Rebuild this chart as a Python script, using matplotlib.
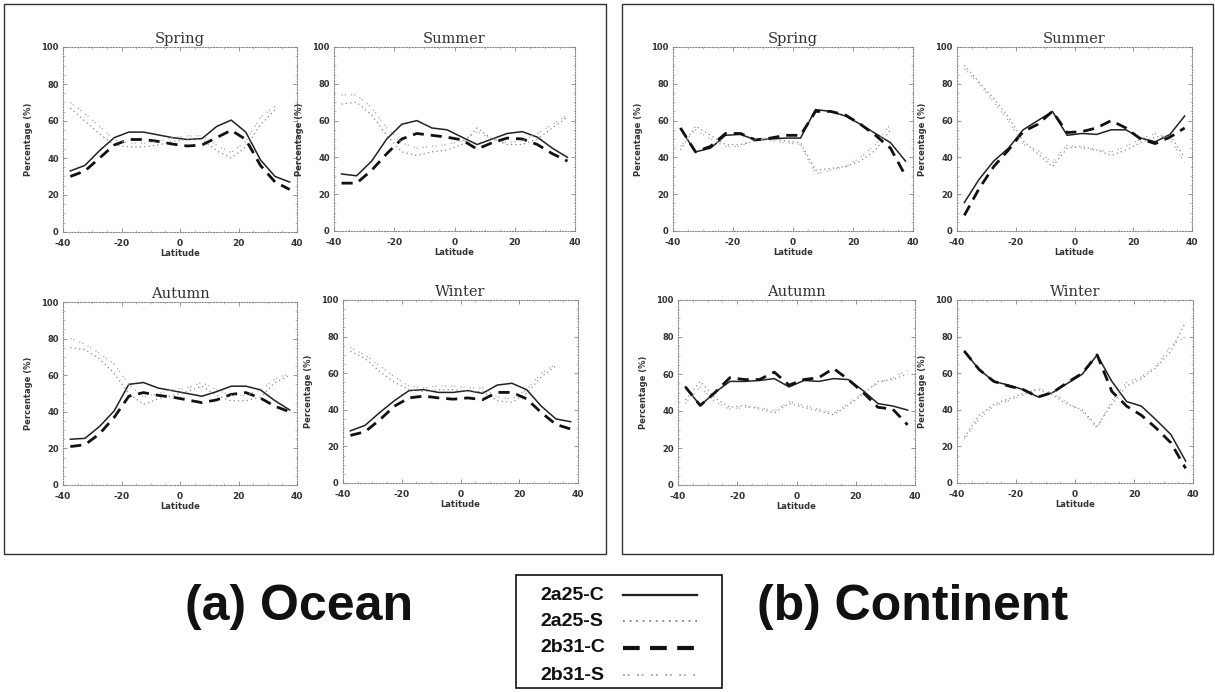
import numpy as np
import matplotlib
matplotlib.use("Agg")
import matplotlib.pyplot as plt
from matplotlib.patches import Rectangle
from matplotlib.lines import Line2D

lat = [-37.5, -32.5, -27.5, -22.5, -17.5, -12.5, -7.5, -2.5, 2.5, 7.5, 12.5, 17.5, 22.5, 27.5, 32.5, 37.5]
nan = np.nan

# ---------------- Ocean ----------------
oc_spring_2a25C = [33, 36, 44, 51, 54, 54, 52.5, 51, 50, 50.5, 57, 60.5, 54, 39, 30, 27]
oc_spring_2a25S = [67, 60, 53, 47, 46, 46, 47, 49, 50, 50, 44, 40, 46, 58, 66, nan]
oc_spring_2b31C = [30, 33, 40, 47, 50, 50, 49, 47.5, 46.5, 47, 51, 55, 50, 36, 27, 23]
oc_spring_2b31S = [70, 64, 57, 50, 48, 48, 49, 51, 52, 52, 47, 43, 49, 62, 68, nan]

oc_summer_2a25C = [31, 30, 38, 50, 58, 60, 56, 55, 51, 47, 50, 53, 54, 51, 45, 40]
oc_summer_2a25S = [69, 70, 63, 52, 43, 41, 43, 44, 47, 56, 50, 47, 47, 50, 56, 62]
oc_summer_2b31C = [26, 26, 33, 42, 50, 53, 52, 51, 49.5, 44.5, 48, 50.5, 50, 47, 42, 38]
oc_summer_2b31S = [74, 74, 67, 56, 48, 45, 46, 47, 49, 54, 50, 48, 49, 53, 58, 63]

oc_autumn_2a25C = [25, 25.5, 32, 40.5, 55, 56, 53, 51.5, 50, 48.5, 51, 54, 54, 52, 46, 41]
oc_autumn_2a25S = [75, 74, 69, 61, 50, 44, 47, 49, 51, 54, 49, 46, 46, 48, 56, 60]
oc_autumn_2b31C = [21, 22, 28, 37, 48.5, 50.5, 49, 48, 46.5, 45, 46.5, 49.5, 50.5, 47.5, 43, 40]
oc_autumn_2b31S = [80, 77, 72, 66, 55, 48, 50, 52, 53, 56, 52, 49, 49, 52, 58, 61]

oc_winter_2a25C = [28.5, 31.5, 38.5, 45, 50.5, 51, 49.5, 49.5, 50.5, 49, 53.5, 54.5, 51, 42, 35, 33.5]
oc_winter_2a25S = [72, 68, 61, 55, 51, 50, 51, 51, 50, 50, 45, 44, 49, 58, 64, nan]
oc_winter_2b31C = [26, 28, 34.5, 42, 46.5, 47.5, 46.5, 45.8, 46.5, 45.5, 49.5, 49.5, 46, 38.5, 32, 29.5]
oc_winter_2b31S = [74, 70, 64, 58, 53, 52, 53, 53, 52, 52, 47, 46, 51, 60, 65, nan]

# ---------------- Continent ----------------
co_spring_2a25C = [55.5, 43, 45, 52, 52.5, 49.5, 50, 50.5, 50.5, 66, 65, 62.5, 58, 53, 48, 38]
co_spring_2a25S = [44, 57, 52, 47, 47, 49, 50, 49, 48, 33, 34, 35, 38, 44, 55, nan]
co_spring_2b31C = [56, 43, 46, 53, 53, 49.5, 50.5, 52, 52, 65, 65, 63, 58, 52, 45, 30]
co_spring_2b31S = [46, 55, 50, 46, 46, 50, 49, 48, 47, 31, 33, 35, 40, 47, 58, nan]

co_summer_2a25C = [15.5, 28, 38, 45, 55, 60, 65, 52, 53, 52.5, 55, 55, 50.5, 48.5, 52.5, 62.5]
co_summer_2a25S = [90, 81, 72, 62, 49, 42, 35, 45, 46, 44, 41, 44, 48, 51, 52, 40]
co_summer_2b31C = [8.5, 23, 35, 44, 54, 58, 65, 53.5, 54, 56, 60, 56, 50, 47.5, 51, 56]
co_summer_2b31S = [88, 80, 70, 60, 47, 44, 37, 47, 45, 44, 43, 46, 50, 53, 50, 37]

co_autumn_2a25C = [53, 43, 50, 56, 56, 56.5, 57.5, 53, 56.5, 56, 57.5, 57, 51, 44, 42.7, 40.5]
co_autumn_2a25S = [46, 56, 47, 42, 43, 41, 39, 44, 42, 40, 38, 43, 49, 56, 57, 60]
co_autumn_2b31C = [53, 43, 50, 58, 57, 57, 61, 54, 57, 58, 63, 57, 50, 42, 41, 32.5]
co_autumn_2b31S = [44, 53, 45, 41, 42, 42, 40, 45, 43, 41, 39, 44, 50, 55, 58, 62]

co_winter_2a25C = [72, 62, 55.5, 53.5, 51, 47, 49.5, 54.5, 59.5, 70, 55.5, 44.5, 42, 34.5, 26.5, 12]
co_winter_2a25S = [25, 37, 43, 46, 49, 51, 48, 43, 40, 31, 43, 53, 57, 63, 72, 88]
co_winter_2b31C = [72, 62, 55.5, 53, 51, 47, 49.5, 55, 60, 70, 50, 42, 37, 30, 22, 8]
co_winter_2b31S = [24, 35, 42, 45, 48, 52, 49, 44, 39, 30, 45, 55, 58, 64, 75, 80]

seasons = ["Spring", "Summer", "Autumn", "Winter"]
series_names = ["2a25-C", "2a25-S", "2b31-C", "2b31-S"]
xticks = [-40, -20, 0, 20, 40]
yticks = [0, 20, 40, 60, 80, 100]

ocean = {
    "Spring": [oc_spring_2a25C, oc_spring_2a25S, oc_spring_2b31C, oc_spring_2b31S],
    "Summer": [oc_summer_2a25C, oc_summer_2a25S, oc_summer_2b31C, oc_summer_2b31S],
    "Autumn": [oc_autumn_2a25C, oc_autumn_2a25S, oc_autumn_2b31C, oc_autumn_2b31S],
    "Winter": [oc_winter_2a25C, oc_winter_2a25S, oc_winter_2b31C, oc_winter_2b31S],
}
continent = {
    "Spring": [co_spring_2a25C, co_spring_2a25S, co_spring_2b31C, co_spring_2b31S],
    "Summer": [co_summer_2a25C, co_summer_2a25S, co_summer_2b31C, co_summer_2b31S],
    "Autumn": [co_autumn_2a25C, co_autumn_2a25S, co_autumn_2b31C, co_autumn_2b31S],
    "Winter": [co_winter_2a25C, co_winter_2a25S, co_winter_2b31C, co_winter_2b31S],
}

styles = [
    dict(color="#222222", lw=1.1, ls="-"),
    dict(color="#8a8a8a", lw=0.9, ls=(0, (1, 2.5))),
    dict(color="#111111", lw=2.0, ls=(0, (4, 2.5))),
    dict(color="#a8a8a8", lw=0.9, ls=(0, (1, 1.5, 1, 4))),
]

W, H = 1215, 692
fig = plt.figure(figsize=(W / 100, H / 100), dpi=100)
fig.patch.set_facecolor("white")

def px_axes(x0, x1, y0, y1):
    return fig.add_axes([x0 / W, 1 - y1 / H, (x1 - x0) / W, (y1 - y0) / H])

# pixel boxes: (x0, x1, ytop, ybottom)
boxes_ocean = {
    "Spring": (63, 297, 47, 232),
    "Summer": (334, 575, 47, 231),
    "Autumn": (63, 297, 302, 485),
    "Winter": (343, 578, 300, 483),
}
boxes_cont = {
    "Spring": (673, 913, 47, 231),
    "Summer": (957, 1192, 47, 231),
    "Autumn": (678, 915, 300, 485),
    "Winter": (957, 1193, 300, 483),
}

def draw_panel(box, season, data):
    ax = px_axes(*box)
    for vals, st in zip(data, styles):
        ax.plot(lat, vals, color=st["color"], lw=st["lw"], ls=st["ls"])
    ax.set_xlim(-40, 40)
    ax.set_ylim(0, 100)
    ax.set_xticks(xticks)
    ax.set_yticks(yticks)
    ax.set_xticklabels([str(t) for t in xticks], fontsize=6.5, fontweight="bold", color="#333333")
    ax.set_yticklabels([str(t) for t in yticks], fontsize=6, fontweight="bold", color="#333333")
    ax.minorticks_on()
    ax.tick_params(axis="x", which="major", pad=5)
    ax.tick_params(axis="y", which="major", pad=3)
    ax.tick_params(which="major", direction="in", length=3, width=0.6, color="#888888",
                   top=True, right=True)
    ax.tick_params(which="minor", direction="in", length=1.5, width=0.5, color="#aaaaaa",
                   top=True, right=True)
    for sp in ax.spines.values():
        sp.set_linestyle((0, (1, 1.5)))
        sp.set_color("#888888")
        sp.set_linewidth(0.8)
    ax.set_title(season, fontsize=10.5, family="DejaVu Serif", color="#333333", pad=3)
    ax.set_xlabel("Latitude", fontsize=6, fontweight="bold", color="#333333", labelpad=1)
    ax.set_ylabel("Percentage (%)", fontsize=6, fontweight="bold", color="#333333", labelpad=6)
    return ax

for s in seasons:
    draw_panel(boxes_ocean[s], s, ocean[s])
    draw_panel(boxes_cont[s], s, continent[s])

# outer frames
for (x0, y0, x1, y1) in [(4, 4, 606, 554), (622, 4, 1213, 554)]:
    fig.patches.append(Rectangle((x0 / W, 1 - y1 / H), (x1 - x0) / W, (y1 - y0) / H,
                                 transform=fig.transFigure, fill=False,
                                 edgecolor="#333333", linewidth=1.0))

fig.text(299 / W, 1 - 607 / H, "(a) Ocean", fontsize=36, fontweight="bold",
         family="Liberation Sans", ha="center", va="center", color="#111111")
fig.text(913 / W, 1 - 607 / H, "(b) Continent", fontsize=36, fontweight="bold",
         family="Liberation Sans", ha="center", va="center", color="#111111")

# legend box
lx0, ly0, lx1, ly1 = 516, 575, 722, 688
fig.patches.append(Rectangle((lx0 / W, 1 - ly1 / H), (lx1 - lx0) / W, (ly1 - ly0) / H,
                             transform=fig.transFigure, fill=False,
                             edgecolor="#111111", linewidth=1.2))
rows_y = [595, 621, 648, 675]
for name, st, yy in zip(series_names, styles, rows_y):
    fig.text(540 / W, 1 - yy / H, name, fontsize=14, fontweight="bold",
             family="Liberation Sans", ha="left", va="center", color="#111111")
    fig.lines.append(Line2D([623 / W, 697 / W], [1 - yy / H, 1 - yy / H],
                            transform=fig.transFigure, color=st["color"],
                            lw=st["lw"] * 1.5, ls=st["ls"]))

fig.savefig("out.png", dpi=100, facecolor="white")
